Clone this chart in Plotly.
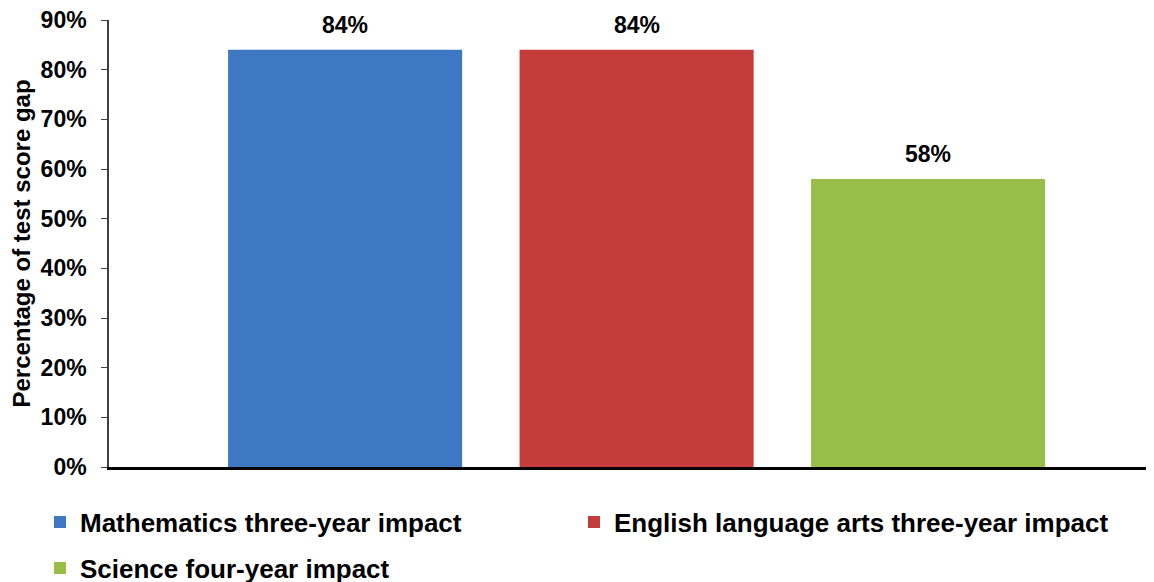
import plotly.graph_objects as go

series_names = [
    "Mathematics three-year impact",
    "English language arts three-year impact",
    "Science four-year impact",
]
series_values = [84, 84, 58]
series_colors = ["#3e77c2", "#c43d3b", "#98bd48"]
series_legends = ["legend", "legend2", "legend3"]
y_ticks = [0, 10, 20, 30, 40, 50, 60, 70, 80, 90]
y_tick_labels = [f"{v}%" for v in y_ticks]

FONT = "Liberation Sans, Arial, sans-serif"
W, H = 1146, 574  # page body adds an 8px margin

fig = go.Figure()
for name, val, col, lg in zip(series_names, series_values, series_colors, series_legends):
    fig.add_trace(go.Bar(
        x=[name], y=[val], name=name,
        marker=dict(color=col, line=dict(width=0)),
        legend=lg,
    ))
    fig.add_annotation(
        x=name, y=val, text=f"{val}%", showarrow=False,
        yanchor="middle", yshift=25,
        font=dict(family=FONT, size=23, color="black", weight="bold"),
    )

legend_common = dict(
    orientation="h", xref="container", yref="container",
    xanchor="left", yanchor="middle",
    font=dict(family=FONT, size=26, color="black", weight="bold"),
    bgcolor="rgba(0,0,0,0)",
)

fig.update_layout(
    width=W, height=H,
    margin=dict(l=101, r=0, t=12, b=115, autoexpand=False),
    paper_bgcolor="white", plot_bgcolor="white",
    barmode="overlay", bargap=0.197,
    font=dict(family=FONT, size=20, color="black", weight="bold"),
    showlegend=True,
    legend=dict(legend_common, x=32 / W, y=(H - 514) / H),
    legend2=dict(legend_common, x=566 / W, y=(H - 514) / H),
    legend3=dict(legend_common, x=32 / W, y=(H - 560) / H),
    xaxis=dict(
        range=[-0.81, 2.775],
        showticklabels=False, ticks="", showgrid=False,
        showline=True, linecolor="black", linewidth=2.5,
        zeroline=False, automargin=False,
    ),
    yaxis=dict(
        range=[0, 90], tickvals=y_ticks, ticktext=y_tick_labels,
        ticks="outside", ticklen=6, tickcolor="#404040", tickwidth=1,
        showline=True, linecolor="#404040", linewidth=1.5,
        showgrid=False, zeroline=False, automargin=False,
        ticklabelstandoff=10, ticklabeloverflow="allow",
        tickfont=dict(family=FONT, size=23, color="black", weight="bold"),
        title=dict(text="Percentage of test score gap",
                   font=dict(family=FONT, size=24, color="black", weight="bold")),
    ),
)

fig.write_html("out.html")
